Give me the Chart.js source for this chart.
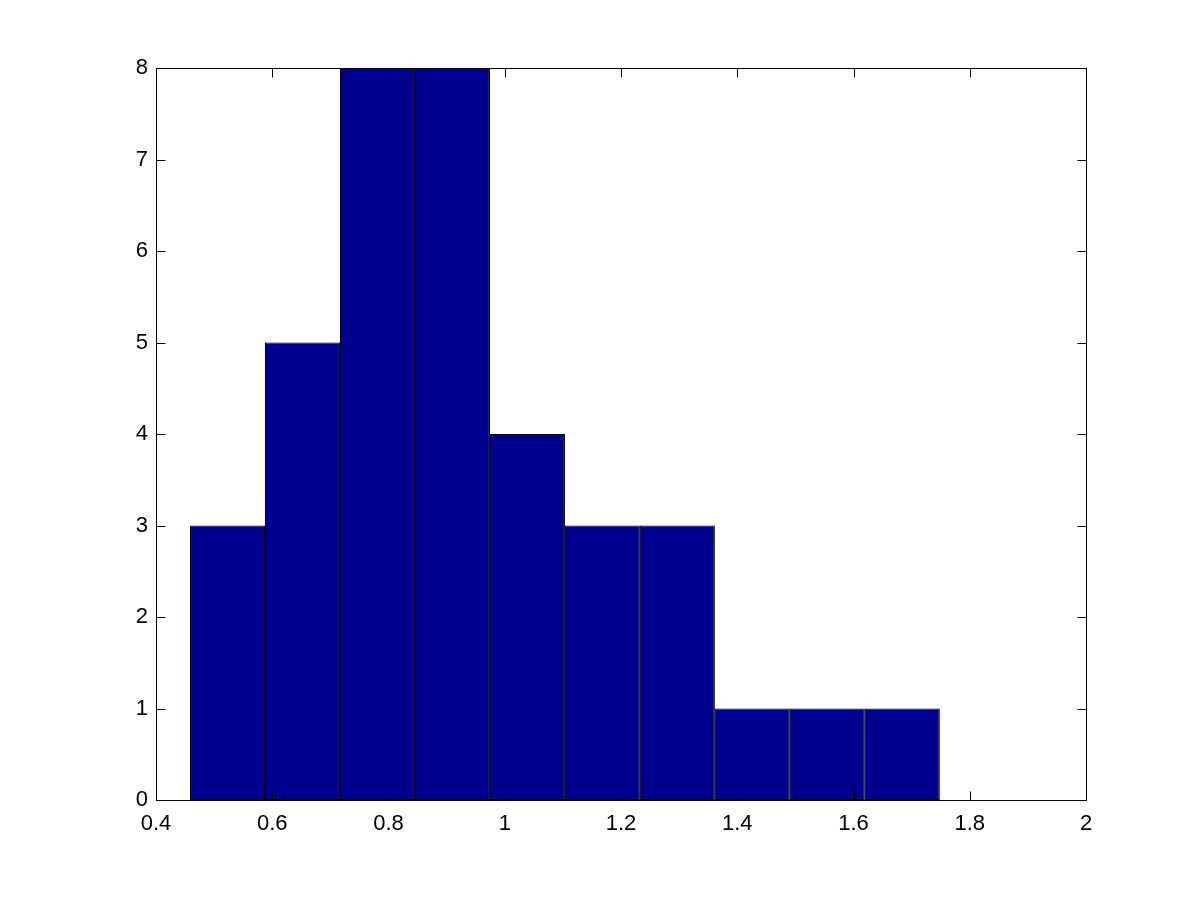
<!DOCTYPE html>
<html>
<head>
<meta charset="utf-8">
<script src="https://cdn.jsdelivr.net/npm/chart.js@4.4.1/dist/chart.umd.min.js"></script>
<style>
  html, body { margin: 0; padding: 0; background: #ffffff; }
  #wrap { width: 1200px; height: 900px; }
</style>
</head>
<body>
<div id="wrap"><canvas id="c" width="1200" height="900"></canvas></div>
<script>
// Histogram bins (centers) and counts
const binCenters = [0.523, 0.652, 0.781, 0.910, 1.039, 1.168, 1.297, 1.426, 1.555, 1.684];
const counts = [3, 5, 8, 8, 4, 3, 3, 1, 1, 1];
const xTicks = [0.4, 0.6, 0.8, 1, 1.2, 1.4, 1.6, 1.8, 2];
const yTicks = [0, 1, 2, 3, 4, 5, 6, 7, 8];

const FONT = { family: '"Liberation Sans", Arial, Helvetica, sans-serif', size: 22 };

const boxTicks = {
  id: 'boxTicks',
  afterDraw(chart) {
    const { ctx, chartArea: a, scales } = chart;
    const L = 9;
    ctx.save();
    ctx.strokeStyle = '#000';
    ctx.lineWidth = 1;
    ctx.beginPath();
    const l = Math.round(a.left) + 0.5, r = Math.round(a.right) + 0.5;
    const t = Math.round(a.top) + 0.5, b = Math.round(a.bottom) + 0.5;
    ctx.rect(l, t, r - l, b - t);
    xTicks.forEach(v => {
      const px = Math.round(scales.x.getPixelForValue(v)) + 0.5;
      ctx.moveTo(px, b); ctx.lineTo(px, b - L);
      ctx.moveTo(px, t); ctx.lineTo(px, t + L);
    });
    yTicks.forEach(v => {
      const py = Math.round(scales.y.getPixelForValue(v)) + 0.5;
      ctx.moveTo(l, py); ctx.lineTo(l + L, py);
      ctx.moveTo(r, py); ctx.lineTo(r - L, py);
    });
    ctx.stroke();
    ctx.restore();
  }
};

new Chart(document.getElementById('c'), {
  type: 'bar',
  data: {
    datasets: [{
      data: binCenters.map((x, i) => ({ x: x, y: counts[i] })),
      backgroundColor: '#00008F',
      borderColor: '#000000',
      borderWidth: 1,
      borderSkipped: false,
      inflateAmount: 0,
      barPercentage: 1,
      categoryPercentage: 1
    }]
  },
  options: {
    responsive: false,
    animation: false,
    devicePixelRatio: 1,
    layout: { padding: { top: 68, right: 114, left: 0, bottom: 0 } },
    plugins: { legend: { display: false }, tooltip: { enabled: false } },
    scales: {
      x: {
        type: 'linear',
        offset: false,
        min: 0.4, max: 2,
        afterBuildTicks(scale) { scale.ticks = xTicks.map(v => ({ value: v })); },
        afterFit(scale) { scale.height = 100; },
        grid: { display: false, drawTicks: false, offset: false },
        border: { display: false },
        ticks: {
          color: '#000', font: FONT, padding: 11,
          callback: v => String(Math.round(v * 10) / 10)
        }
      },
      y: {
        min: 0, max: 8,
        afterBuildTicks(scale) { scale.ticks = yTicks.map(v => ({ value: v })); },
        afterFit(scale) { scale.width = 156; },
        grid: { display: false, drawTicks: false },
        border: { display: false },
        ticks: { color: '#000', font: FONT, padding: 8 }
      }
    }
  },
  plugins: [boxTicks]
});
</script>
</body>
</html>
